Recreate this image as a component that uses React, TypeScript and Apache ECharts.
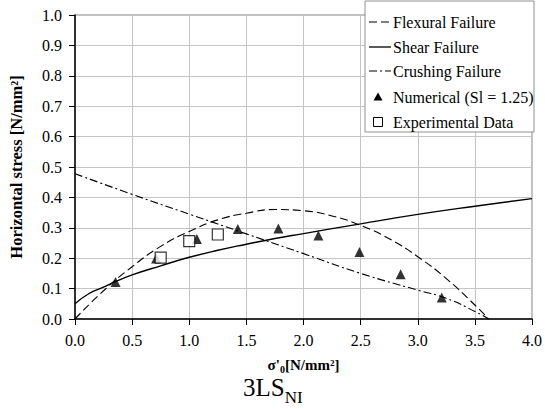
import React, { useEffect, useRef } from "react";
import * as echarts from "echarts";

const FONT = "Liberation Serif, Times New Roman, serif";

const seriesNames = [
  "Flexural Failure",
  "Shear Failure",
  "Crushing Failure",
  "Numerical (Sl = 1.25)",
  "Experimental Data",
];

// Flexural failure curve
const flexX = [0, 0.25, 0.5, 0.75, 1.0, 1.25, 1.5, 1.75, 2.0, 2.25, 2.5, 2.75, 3.0, 3.25, 3.5, 3.62];
const flexY = [0, 0.093, 0.172, 0.239, 0.288, 0.326, 0.348, 0.36, 0.356, 0.339, 0.308, 0.264, 0.205, 0.133, 0.046, 0];

// Shear failure curve
const shearX = [0, 0.12, 0.25, 0.35, 0.5, 0.75, 1.0, 1.25, 1.5, 1.75, 2.0, 2.5, 3.0, 3.5, 4.0];
const shearY = [0.05, 0.083, 0.105, 0.122, 0.145, 0.175, 0.203, 0.226, 0.246, 0.265, 0.281, 0.313, 0.344, 0.371, 0.396];

// Crushing failure curve
const crushX = [0, 0.5, 1.0, 1.5, 2.0, 2.5, 3.0, 3.25, 3.5, 3.62];
const crushY = [0.478, 0.41, 0.345, 0.28, 0.215, 0.15, 0.095, 0.068, 0.025, 0];

// Numerical (Sl = 1.25)
const numX = [0.355, 0.71, 1.067, 1.425, 1.78, 2.13, 2.49, 2.85, 3.21];
const numY = [0.122, 0.199, 0.263, 0.296, 0.298, 0.275, 0.22, 0.147, 0.071];

// Experimental data
const expX = [0.75, 1.0, 1.25];
const expY = [0.202, 0.256, 0.278];

const zip = (xs: number[], ys: number[]) => xs.map((x, i) => [x, ys[i]]);

const FLEX_DASH = [8, 4];
const CRUSH_DASH = [8, 3, 2, 3];
const LEGEND_ROWS = [22, 47, 71, 97, 122];

function buildLegendShapes() {
  const els: any[] = [
    {
      type: "rect",
      shape: { x: 365, y: 1, width: 169, height: 131 },
      style: { fill: "#ffffff", stroke: "#909090", lineWidth: 1 },
      z: 100,
    },
  ];
  const iconX1 = 369;
  const iconX2 = 391;
  const iconCx = 378;
  LEGEND_ROWS.forEach((cy, i) => {
    if (i === 0) {
      els.push({ type: "line", shape: { x1: iconX1, y1: cy, x2: iconX2, y2: cy }, style: { stroke: "#000", lineWidth: 1.1, lineDash: FLEX_DASH }, z: 101 });
    } else if (i === 1) {
      els.push({ type: "line", shape: { x1: iconX1, y1: cy, x2: iconX2, y2: cy }, style: { stroke: "#000", lineWidth: 1.3 }, z: 101 });
    } else if (i === 2) {
      els.push({ type: "line", shape: { x1: iconX1, y1: cy, x2: iconX2, y2: cy }, style: { stroke: "#000", lineWidth: 1.1, lineDash: CRUSH_DASH }, z: 101 });
    } else if (i === 3) {
      els.push({ type: "polygon", shape: { points: [[iconCx, cy - 4.5], [iconCx + 4.5, cy + 3.5], [iconCx - 4.5, cy + 3.5]] }, style: { fill: "#000" }, z: 101 });
    } else {
      els.push({ type: "rect", shape: { x: iconCx - 4.5, y: cy - 4.5, width: 9, height: 9 }, style: { fill: "#fff", stroke: "#000", lineWidth: 1 }, z: 101 });
    }
  });
  return els;
}

function buildLegendTitles() {
  return seriesNames.map((name, i) => ({
    text: "{t|" + name + "}",
    left: 393,
    top: LEGEND_ROWS[i] - 9.5,
    padding: 0,
    z: 102,
    textStyle: {
      fontWeight: "normal",
      rich: {
        t: {
          fontFamily: FONT,
          fontWeight: "normal",
          fontSize: 16,
          lineHeight: 19,
          color: "#000",
        },
      },
    },
  }));
}

export default function App() {
  const ref = useRef<HTMLDivElement>(null);
  useEffect(() => {
    if (!ref.current) return;
    const chart = echarts.init(ref.current, undefined, { renderer: "svg" });
    chart.setOption({
      animation: false,
      backgroundColor: "#ffffff",
      textStyle: { fontFamily: FONT },
      grid: {
        left: 75,
        right: 12,
        top: 15,
        bottom: 90,
        show: true,
        borderColor: "#808080",
        borderWidth: 1,
      },
      title: [
        {
          text: "{a|3LS}{b|NI}",
          left: 243,
          top: 375,
          padding: 0,
          textStyle: {
            fontWeight: "normal",
            rich: {
              a: { fontFamily: FONT, fontWeight: "normal", fontSize: 25, color: "#000", verticalAlign: "top", lineHeight: 31 },
              b: { fontFamily: FONT, fontWeight: "normal", fontSize: 17, color: "#000", verticalAlign: "bottom", lineHeight: 17 },
            },
          },
        },
        ...buildLegendTitles(),
      ],
      graphic: buildLegendShapes(),
      xAxis: {
        type: "value",
        min: 0,
        max: 4,
        interval: 0.5,
        name: "{n|σ'}{s|0}{n|[N/mm²]}",
        nameLocation: "middle",
        nameGap: 38,
        nameTextStyle: {
          rich: {
            n: { fontFamily: FONT, fontWeight: "bold", fontSize: 15, color: "#000", verticalAlign: "top", lineHeight: 17 },
            s: { fontFamily: FONT, fontWeight: "bold", fontSize: 10, color: "#000", verticalAlign: "bottom", lineHeight: 9 },
          },
        },
        axisLine: { lineStyle: { color: "#000", width: 1.5 } },
        axisTick: { show: true, length: 6, lineStyle: { color: "#000" } },
        axisLabel: {
          margin: 13,
          fontFamily: FONT,
          fontSize: 16,
          color: "#000",
          formatter: (v: number) => v.toFixed(1),
        },
        splitLine: { show: true, lineStyle: { color: "#c4c4c4", width: 1 } },
      },
      yAxis: {
        type: "value",
        min: 0,
        max: 1,
        interval: 0.1,
        name: "Horizontal stress [N/mm²]",
        nameLocation: "middle",
        nameGap: 50,
        nameTextStyle: { fontFamily: FONT, fontWeight: "bold", fontSize: 16.5, color: "#000" },
        axisLine: { show: true, lineStyle: { color: "#000", width: 1.5 } },
        axisTick: { show: true, length: 6, lineStyle: { color: "#000" } },
        axisLabel: {
          margin: 13,
          fontFamily: FONT,
          fontSize: 16,
          color: "#000",
          formatter: (v: number) => v.toFixed(1),
        },
        splitLine: { show: true, lineStyle: { color: "#c4c4c4", width: 1 } },
      },
      series: [
        {
          name: seriesNames[0],
          type: "line",
          data: zip(flexX, flexY),
          smooth: true,
          symbol: "none",
          lineStyle: { color: "#000", width: 1.1, type: FLEX_DASH },
          itemStyle: { color: "#000" },
        },
        {
          name: seriesNames[1],
          type: "line",
          data: zip(shearX, shearY),
          smooth: true,
          symbol: "none",
          lineStyle: { color: "#000", width: 1.4, type: "solid" },
          itemStyle: { color: "#000" },
        },
        {
          name: seriesNames[2],
          type: "line",
          data: zip(crushX, crushY),
          smooth: true,
          symbol: "none",
          lineStyle: { color: "#000", width: 1.1, type: CRUSH_DASH },
          itemStyle: { color: "#000" },
        },
        {
          name: seriesNames[3],
          type: "scatter",
          data: zip(numX, numY),
          symbol: "triangle",
          symbolSize: 10,
          itemStyle: { color: "#000" },
        },
        {
          name: seriesNames[4],
          type: "scatter",
          data: zip(expX, expY),
          symbol: "rect",
          symbolSize: 11,
          itemStyle: { color: "#fff", borderColor: "#000", borderWidth: 1.2 },
        },
      ],
    });
    return () => chart.dispose();
  }, []);
  return <div ref={ref} style={{ width: 545, height: 409, position: "absolute", left: 0, top: 0 }} />;
}
